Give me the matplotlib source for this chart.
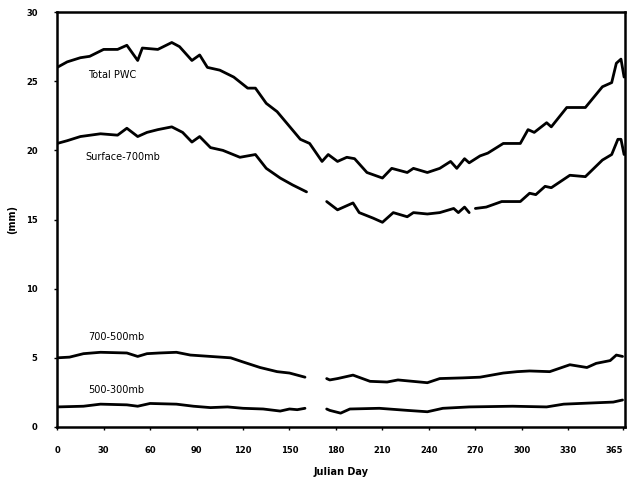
import numpy as np
import matplotlib.pyplot as plt

# Julian day / precipitable water (mm)
day_total = [0, 6.5, 15, 21, 30, 39, 45, 52, 55, 65, 74, 79, 87, 92, 97, 105, 114,
             123, 128, 135, 142, 148, 157, 163, 171, 175, 181, 187, 192, 200, 210,
             216, 226, 230, 239, 247, 254, 258, 263, 266, 273, 278, 288, 299, 304,
             308, 316, 319, 329, 341, 352, 358, 361, 364, 366]
pwc_total = [26.0, 26.4, 26.7, 26.8, 27.3, 27.3, 27.6, 26.5, 27.4, 27.3, 27.8, 27.5,
             26.5, 26.9, 26.0, 25.8, 25.3, 24.5, 24.5, 23.4, 22.8, 22.0, 20.8, 20.5,
             19.2, 19.7, 19.2, 19.5, 19.4, 18.4, 18.0, 18.7, 18.4, 18.7, 18.4, 18.7,
             19.2, 18.7, 19.4, 19.1, 19.6, 19.8, 20.5, 20.5, 21.5, 21.3, 22.0, 21.7,
             23.1, 23.1, 24.6, 24.9, 26.3, 26.6, 25.3]

day_sfc = [0, 6.5, 15, 28, 39, 45, 52, 58, 65, 74, 81, 87, 92, 99, 107, 118, 128,
           135, 144, 152, 161, np.nan, 174, 181, 191, 195, 204, 210, 217, 226, 230,
           239, 247, 256, 259, 263, 266, np.nan, 270, 277, 287, 299, 305, 309, 315,
           319, 331, 341, 352, 358, 362, 364, 366]
pwc_sfc = [20.5, 20.7, 21.0, 21.2, 21.1, 21.6, 21.0, 21.3, 21.5, 21.7, 21.3, 20.6,
           21.0, 20.2, 20.0, 19.5, 19.7, 18.7, 18.0, 17.5, 17.0, np.nan, 16.3, 15.7,
           16.2, 15.5, 15.1, 14.8, 15.5, 15.2, 15.5, 15.4, 15.5, 15.8, 15.5, 15.9,
           15.5, np.nan, 15.8, 15.9, 16.3, 16.3, 16.9, 16.8, 17.4, 17.3, 18.2, 18.1,
           19.3, 19.7, 20.8, 20.8, 19.7]

day_mid = [0, 8, 17, 28, 45, 52, 58, 66, 77, 86, 99, 112, 120, 131, 142, 150, 160,
           np.nan, 174, 176, 181, 191, 202, 213, 220, 239, 247, 262, 273, 288, 297,
           305, 318, 331, 342, 348, 357, 361, 365]
pwc_mid = [5.0, 5.05, 5.3, 5.4, 5.35, 5.1, 5.3, 5.35, 5.4, 5.2, 5.1, 5.0, 4.7, 4.3,
           4.0, 3.9, 3.6, np.nan, 3.5, 3.4, 3.5, 3.75, 3.3, 3.25, 3.4, 3.2, 3.5, 3.55,
           3.6, 3.9, 4.0, 4.05, 4.0, 4.5, 4.3, 4.6, 4.8, 5.2, 5.1]

day_upper = [0, 17, 28, 45, 52, 60, 77, 88, 99, 110, 120, 133, 144, 150, 155, 160,
             np.nan, 174, 176, 183, 189, 208, 226, 239, 249, 266, 294, 316, 327, 348,
             359, 365]
pwc_upper = [1.45, 1.5, 1.65, 1.6, 1.5, 1.7, 1.65, 1.5, 1.4, 1.45, 1.35, 1.3, 1.15,
             1.3, 1.25, 1.35, np.nan, 1.3, 1.2, 1.0, 1.3, 1.35, 1.2, 1.1, 1.35, 1.45,
             1.5, 1.45, 1.65, 1.75, 1.8, 1.95]

series_names = ['Total PWC', 'Surface-700mb', '700-500mb', '500-300mb']
label_pos = [(20, 25.45), (18, 19.5), (20, 6.5), (20, 2.7)]

x_ticks = [0, 30, 60, 90, 120, 150, 180, 210, 240, 270, 300, 330, 365]
x_tick_labels = ['0', '30', '60', '90', '120', '150', '180', '210', '240', '270',
                 '300', '330', '365']
y_ticks = [0, 5, 10, 15, 20, 25, 30]


fig = plt.figure(figsize=(6.28, 4.83), dpi=100)
ax = fig.add_axes([0.091, 0.116, 0.904, 0.859])

for d, v in zip([day_total, day_sfc, day_mid, day_upper],
                [pwc_total, pwc_sfc, pwc_mid, pwc_upper]):
    ax.plot(d, v, color='black', linewidth=2.0, solid_capstyle='round')

for name, (lx, ly) in zip(series_names, label_pos):
    ax.text(lx, ly, name, fontsize=7, color='black', va='center', ha='left')

ax.set_xlim(0, 366.5)
ax.set_ylim(0, 30)
ax.set_xticks(x_ticks)
ax.set_xticklabels(x_tick_labels)
ax.set_yticks(y_ticks)
ax.tick_params(axis='both', length=2, width=1, labelsize=6, pad=12)
for lbl in ax.get_xticklabels() + ax.get_yticklabels():
    lbl.set_fontweight('bold')
ax.get_xticklabels()[-1].set_horizontalalignment('right')

for sp in ax.spines.values():
    sp.set_linewidth(1.8)

ax.set_xlabel('Julian Day', fontsize=7, fontweight='bold', labelpad=8)
ax.set_ylabel('(mm)', fontsize=7, fontweight='bold')
ax.yaxis.set_label_coords(-0.07, 0.5)

fig.savefig('out.png', dpi=100)
